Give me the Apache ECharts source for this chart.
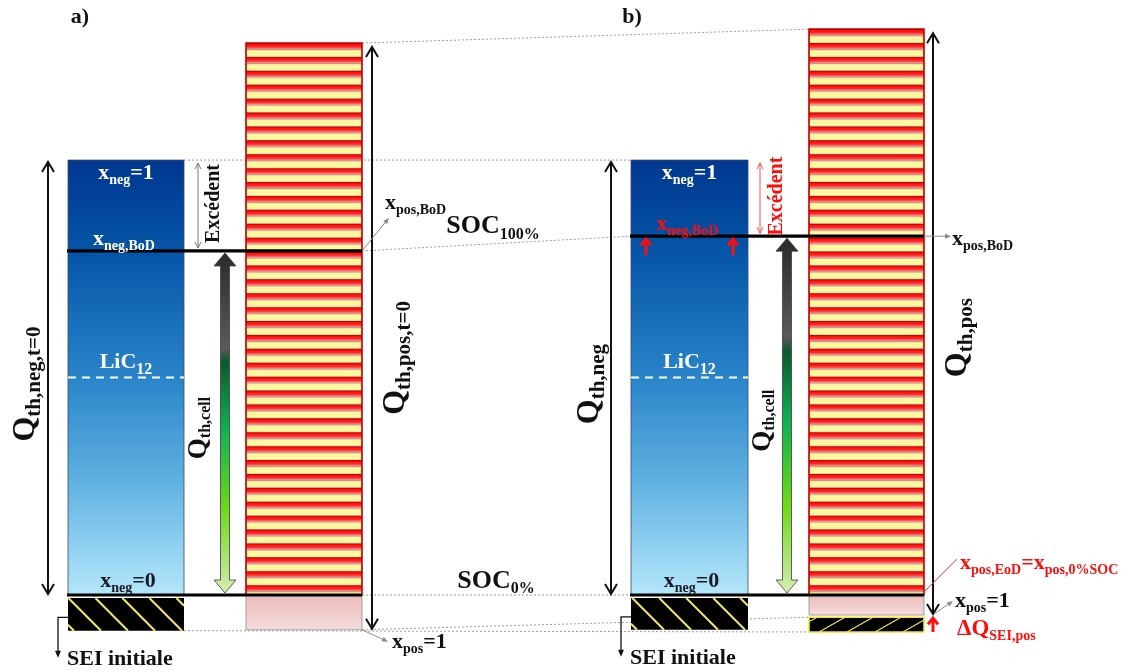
<!DOCTYPE html>
<html><head><meta charset="utf-8">
<script src="https://cdn.jsdelivr.net/npm/echarts@6/dist/echarts.min.js"></script>
<style>html,body{margin:0;padding:0;background:#fff}#c{width:1130px;height:672px}</style>
</head><body><div id="c"></div>
<script>
// ---------------- DATA (capacity levels; SOC 0% = 0, Q_th,neg = 100) ----------------
const panels       = ['a)', 'b)'];
const negTop       = [100, 100];      // x_neg = 1
const negBoD       = [79.1, 82.5];    // x_neg,BoD  (SOC 100%)
const licLevel     = [50, 50];        // LiC12
const posTop       = [126.9, 130.1];  // top of positive electrode
const posOne       = [-8.0, -4.6];    // x_pos = 1
const seiNegTop    = [-0.7, -0.7];    // initial SEI (negative)
const seiNegBottom = [-8.2, -8.0];
const seiPosTop    = [null, -5.1];    // ΔQ_SEI,pos (panel b only)
const seiPosBottom = [null, -8.5];

// ---------------- LAYOUT / STYLE ----------------
const FONT = '"Liberation Serif","Times New Roman",serif';
const LAYOUT = [
  {label:80,  negL:68,  negR:184, posL:246, posR:362, qNegX:48,  qPosX:372, cellX:225, excX:198, excTX:214, qNegTX:26,  qPosTX:396, cellTX:199, seiX:58,  red:false},
  {label:632, negL:631, negR:748, posL:809, posR:924, qNegX:611, qPosX:933, cellX:787, excX:760, excTX:777, qNegTX:590, qPosTX:958, cellTX:763, seiX:621, red:true}
];
const RED = '#ff0d0d';
const RICH = {
  m:  {fontFamily:FONT, fontWeight:'bold', fontSize:22},
  s:  {fontFamily:FONT, fontWeight:'bold', fontSize:14, padding:[14,0,0,0]},
  L:  {fontFamily:FONT, fontWeight:'bold', fontSize:22},
  ls: {fontFamily:FONT, fontWeight:'bold', fontSize:16, padding:[14,0,0,0]},
  M:  {fontFamily:FONT, fontWeight:'bold', fontSize:26},
  S:  {fontFamily:FONT, fontWeight:'bold', fontSize:16, padding:[16,0,0,0]},
  Q:  {fontFamily:FONT, fontWeight:'bold', fontSize:32},
  qs: {fontFamily:FONT, fontWeight:'bold', fontSize:21, padding:[17,0,0,0]},
  q:  {fontFamily:FONT, fontWeight:'bold', fontSize:27},
  cs: {fontFamily:FONT, fontWeight:'bold', fontSize:16, padding:[14,0,0,0]},
  t:  {fontFamily:FONT, fontWeight:'bold', fontSize:20},
  T:  {fontFamily:FONT, fontWeight:'bold', fontSize:22},
  D:  {fontFamily:FONT, fontWeight:'bold', fontSize:23}
};
const PERIOD = 13.9;

function lin(stops){return {type:'linear',x:0,y:0,x2:0,y2:1,colorStops:stops.map(s=>({offset:s[0],color:s[1]}))};}
const blueGrad = lin([[0,'#00378f'],[0.22,'#0556a8'],[0.5,'#2a84c9'],[0.75,'#63b4e3'],[1,'#b4e7fb']]);
const redBand  = lin([[0,'#a80000'],[0.2,'#ff0a0a'],[0.55,'#ff2d2d'],[0.85,'#ec9494'],[1,'#a88e8e']]);
const pinkGrad = lin([[0,'#ebbbbb'],[1,'#f5dcdc']]);
const cellGrad = lin([[0,'#2a2a2a'],[0.28,'#5a5a5a'],[0.32,'#0b5a2c'],[0.52,'#0fb252'],[0.75,'#6cd916'],[1,'#d6ecb4']]);

function txt(x, y, text, o){
  o = o || {};
  return {type:'text', x:x, y:y, rotation:o.rot||0, z2:20,
    style:{text:text, rich:RICH, fill:o.fill||'#111', align:o.align||'center', verticalAlign:'middle',
      fontFamily:FONT, fontWeight:'bold', fontSize:o.size||22}};
}
function seg(x1,y1,x2,y2,st){return {type:'line', shape:{x1,y1,x2,y2}, style:st};}
function chevron(x,y,dx,dy,len,half,st){ // open head at (x,y) pointing along (dx,dy)
  const n=Math.hypot(dx,dy); const ux=dx/n, uy=dy/n; const px=-uy, py=ux;
  return {type:'polyline', shape:{points:[[x-ux*len+px*half,y-uy*len+py*half],[x,y],[x-ux*len-px*half,y-uy*len-py*half]]}, style:Object.assign({fill:null},st)};
}
function solidHead(x,y,dx,dy,len,half,col){
  const n=Math.hypot(dx,dy); const ux=dx/n, uy=dy/n; const px=-uy, py=ux;
  return {type:'polygon', shape:{points:[[x,y],[x-ux*len+px*half,y-uy*len+py*half],[x-ux*len-px*half,y-uy*len-py*half]]}, style:{fill:col}};
}

function renderPanel(params, api){
  const i = api.value(0);
  const L = LAYOUT[i];
  const X = x => api.coord([x, 0])[0];
  const Y = v => api.coord([0, v])[1];
  const ch = [];
  const dotted = {stroke:'#9c9c9c', lineWidth:1, lineDash:[2,2]};

  // dotted connectors between the two states
  if (i === 0) {
    const R = LAYOUT[1];
    ch.push(seg(X(L.negR),Y(negTop[0]), X(R.negL),Y(negTop[1]), dotted));
    ch.push(seg(X(L.posR),Y(posTop[0]), X(R.posL),Y(posTop[1]), dotted));
    ch.push(seg(X(L.posR),Y(negBoD[0]), X(R.negL),Y(negBoD[1]), dotted));
    ch.push(seg(X(L.posR),Y(0), X(R.negL),Y(0), dotted));
    ch.push(seg(X(L.posR),Y(posOne[0]), X(R.posL),Y(seiPosTop[1]), dotted));
    ch.push(seg(X(L.negR),Y(seiNegBottom[0]), X(R.posL),Y(seiPosBottom[1]), dotted));
  }

  const nl=X(L.negL), nr=X(L.negR), pl=X(L.posL), pr=X(L.posR);
  const y0=Y(0), yTop=Y(negTop[i]), yBoD=Y(negBoD[i]);

  // negative electrode
  ch.push({type:'rect', shape:{x:nl,y:yTop,width:nr-nl,height:y0-yTop}, style:{fill:blueGrad, stroke:'#3b4a66', lineWidth:0.8}});
  ch.push(seg(nl,Y(licLevel[i]),nr,Y(licLevel[i]),{stroke:'#ffffff',lineWidth:2,lineDash:[8,6]}));

  // positive electrode: striped
  const pT=Y(posTop[i]);
  for(let y=pT; y<y0; y+=PERIOD){
    const h1=Math.min(PERIOD*0.5, y0-y);
    ch.push({type:'rect', shape:{x:pl,y:y,width:pr-pl,height:h1}, style:{fill:redBand}});
    const yy=y+PERIOD*0.5;
    if(yy<y0){
      const h2=Math.min(PERIOD*0.5, y0-yy);
      ch.push({type:'rect', shape:{x:pl,y:yy,width:pr-pl,height:h2}, style:{fill:'#fff8a0', stroke:'#b9ad86', lineWidth:0.6}});
    }
  }
  ch.push({type:'rect', shape:{x:pl,y:pT,width:pr-pl,height:y0-pT}, style:{fill:null, stroke:'#c00000', lineWidth:1.6}});
  // below SOC0% down to x_pos = 1
  const yOne=Y(posOne[i]);
  ch.push({type:'rect', shape:{x:pl,y:y0,width:pr-pl,height:yOne-y0}, style:{fill:pinkGrad, stroke:'#8d8d8d', lineWidth:0.8}});

  // initial SEI (negative) – black with yellow "\" hatching
  const sT=Y(seiNegTop[i]), sB=Y(seiNegBottom[i]), sh=sB-sT;
  ch.push({type:'rect', shape:{x:nl,y:sT,width:nr-nl,height:sh}, style:{fill:'#000'}});
  for(let a=nl-sh+6; a<nr; a+=27){
    const s0=Math.max(0,nl-a), s1=Math.min(sh,nr-a);
    if(s1>s0) ch.push(seg(a+s0,sT+s0,a+s1,sT+s1,{stroke:'#f3e76a',lineWidth:2}));
  }
  // SEI growth on positive (panel b)
  if(seiPosTop[i]!==null){
    const qT=Y(seiPosTop[i]), qB=Y(seiPosBottom[i]), qh=qB-qT, dx=26;
    ch.push({type:'rect', shape:{x:pl,y:qT,width:pr-pl,height:qh}, style:{fill:'#000'}});
    for(let a=pl-dx+8; a<pr; a+=28){
      const s0=Math.max(0,(pl-a)/dx), s1=Math.min(1,(pr-a)/dx);
      if(s1>s0) ch.push(seg(a+s0*dx,qB-s0*qh,a+s1*dx,qB-s1*qh,{stroke:'#e8dc60',lineWidth:1.3}));
    }
    ch.push({type:'rect', shape:{x:pl,y:qT,width:pr-pl,height:qh}, style:{fill:null,stroke:'#f2e43c',lineWidth:1.6}});
  }

  // thick black lines (BoD and SOC 0%)
  ch.push(seg(nl-1,yBoD,pr,yBoD,{stroke:'#000',lineWidth:3.2}));
  ch.push(seg(nl-1,y0,pr,y0,{stroke:'#000',lineWidth:3.2}));

  // Q_th,neg arrow
  const blk={stroke:'#111',lineWidth:2};
  const qx=X(L.qNegX), qT1=yTop+2, qB1=y0-1;
  ch.push(seg(qx,qT1,qx,qB1,blk), chevron(qx,qT1,0,-1,10,6,blk), chevron(qx,qB1,0,1,10,6,blk));
  // Q_th,pos arrow
  const px=X(L.qPosX), pT1=pT+4, pB1=yOne-1;
  ch.push(seg(px,pT1,px,pB1,blk), chevron(px,pT1,0,-1,10,6,blk), chevron(px,pB1,0,1,10,6,blk));

  // Excédent arrow
  const ex=X(L.excX), exCol = L.red ? '#ff4d4d' : '#777';
  const exSt={stroke:exCol,lineWidth:1};
  ch.push(seg(ex,yTop+3,ex,yBoD-3,exSt), chevron(ex,yTop+3,0,-1,6,3,exSt), chevron(ex,yBoD-3,0,1,6,3,exSt));

  // Q_th,cell gradient double arrow
  const cx=X(L.cellX), cT=yBoD+2, cB=y0-2, hw=11, sw=4.5, hl=13;
  ch.push({type:'polygon', shape:{points:[[cx,cT],[cx+hw,cT+hl],[cx+sw,cT+hl],[cx+sw,cB-hl],[cx+hw,cB-hl],[cx,cB],[cx-hw,cB-hl],[cx-sw,cB-hl],[cx-sw,cT+hl],[cx-hw,cT+hl]]},
    style:{fill:cellGrad, stroke:'#3c3c3c', lineWidth:0.8}});

  // SEI initiale connector
  const sm=(sT+sB)/2+3, sx=X(L.seiX);
  const k={stroke:'#111',lineWidth:1.3};
  ch.push({type:'polyline', shape:{points:[[nl,sm],[sx,sm],[sx,sB+24]]}, style:Object.assign({fill:null},k)});
  ch.push(solidHead(sx,sB+27,0,1,7,3,'#111'));

  // ------------- texts -------------
  ch.push(txt(X(L.label), 17, panels[i], {size:22}));
  const ncx=(nl+nr)/2;
  ch.push(txt(ncx, yTop+13, '{m|x}{s|neg}{m|=1}', {fill:'#fff'}));
  ch.push(txt(ncx-2, yBoD-12, '{m|x}{s|neg,BoD}', {fill: L.red ? RED : '#fff'}));
  ch.push(txt(ncx, Y(licLevel[i])-15, '{L|LiC}{ls|12}', {fill:'#fff'}));
  ch.push(txt(ncx+2, y0-14, '{m|x}{s|neg}{m|=0}', {fill:'#1b1b25'}));
  ch.push(txt(X(L.excTX), (yTop+yBoD)/2-2, '{t|Excédent}', {rot:Math.PI/2, fill: L.red ? RED : '#111'}));
  ch.push(txt(X(L.qNegTX), (qT1+qB1)/2+6, i===0?'{Q|Q}{qs|th,neg,t=0}':'{Q|Q}{qs|th,neg}', {rot:Math.PI/2}));
  ch.push(txt(X(L.qPosTX), (pT1+pB1)/2+(i===0?20:14), i===0?'{Q|Q}{qs|th,pos,t=0}':'{Q|Q}{qs|th,pos}', {rot:Math.PI/2}));
  ch.push(txt(X(L.cellTX), (cT+cB)/2+5, '{q|Q}{cs|th,cell}', {rot:Math.PI/2}));
  ch.push(txt(nl-1, sB+29, '{T|SEI initiale}', {align:'left'}));

  if(i===0){
    // x_pos,BoD & x_pos=1 pointers
    const g='#8a8a8a';
    ch.push(seg(pr,yBoD,pr+26,yBoD-32,{stroke:g,lineWidth:1}), solidHead(pr+27,yBoD-33,1,-1.2,6,2.5,g));
    ch.push(txt(pr+23, yBoD-48, '{m|x}{s|pos,BoD}', {align:'left'}));
    ch.push(seg(pr,yOne,pr+24,yOne+11,{stroke:g,lineWidth:1}), solidHead(pr+26,yOne+12,2,1,6,2.5,g));
    ch.push(txt(pr+30, yOne+13, '{m|x}{s|pos}{m|=1}', {align:'left'}));
    // SOC labels
    ch.push(txt(493, (yBoD+Y(negBoD[1]))/2-17, '{M|SOC}{S|100%}'));
    ch.push(txt(496, y0-14, '{M|SOC}{S|0%}'));
  } else {
    const g='#8a8a8a';
    ch.push(seg(pr,yBoD,pr+24,yBoD,{stroke:g,lineWidth:1}), solidHead(pr+27,yBoD,1,0,6,2.5,g));
    ch.push(txt(pr+28, yBoD+3, '{m|x}{s|pos,BoD}', {align:'left'}));
    ch.push(seg(X(L.qPosX)+1,yOne-1,X(L.qPosX)+17,yOne-12,{stroke:g,lineWidth:1}), solidHead(X(L.qPosX)+20,yOne-14,1.4,-1,6,2.5,g));
    ch.push(txt(X(L.qPosX)+22, yOne-14, '{m|x}{s|pos}{m|=1}', {align:'left'}));
    ch.push(seg(pr-1,y0-2,pr+33,y0-36,{stroke:'#ff3a3a',lineWidth:1}));
    ch.push(txt(pr+36, y0-32, '{m|x}{s|pos,EoD}{m|=x}{s|pos,0%SOC}', {align:'left', fill:RED}));
    // red arrows
    const rs={stroke:RED,lineWidth:3};
    [L.negL+15, L.negR-15].forEach(ax=>{
      const X0=X(ax);
      ch.push(seg(X0,yBoD+19,X0,yBoD+4,rs), chevron(X0,yBoD+3,0,-1,6,5,rs));
    });
    const dq=X(L.qPosX);
    ch.push(seg(dq,Y(seiPosBottom[i]),dq,Y(seiPosTop[i])+2,rs), chevron(dq,Y(seiPosTop[i])+1,0,-1,6,5,rs));
    ch.push(txt(dq+24, Y(seiPosBottom[i])-3, '{D|ΔQ}{s|SEI,pos}', {align:'left', fill:RED}));
  }

  return {type:'group', children:ch};
}

const chart = echarts.init(document.getElementById('c'));
chart.setOption({
  animation:false,
  grid:{left:0,right:0,top:0,bottom:0},
  xAxis:{type:'value', min:0, max:1130, show:false},
  yAxis:{type:'value', min:-17.7, max:136.8, show:false},
  series:[{type:'custom', clip:false, silent:true, renderItem:renderPanel, data:[[0],[1]]}]
});
</script></body></html>
